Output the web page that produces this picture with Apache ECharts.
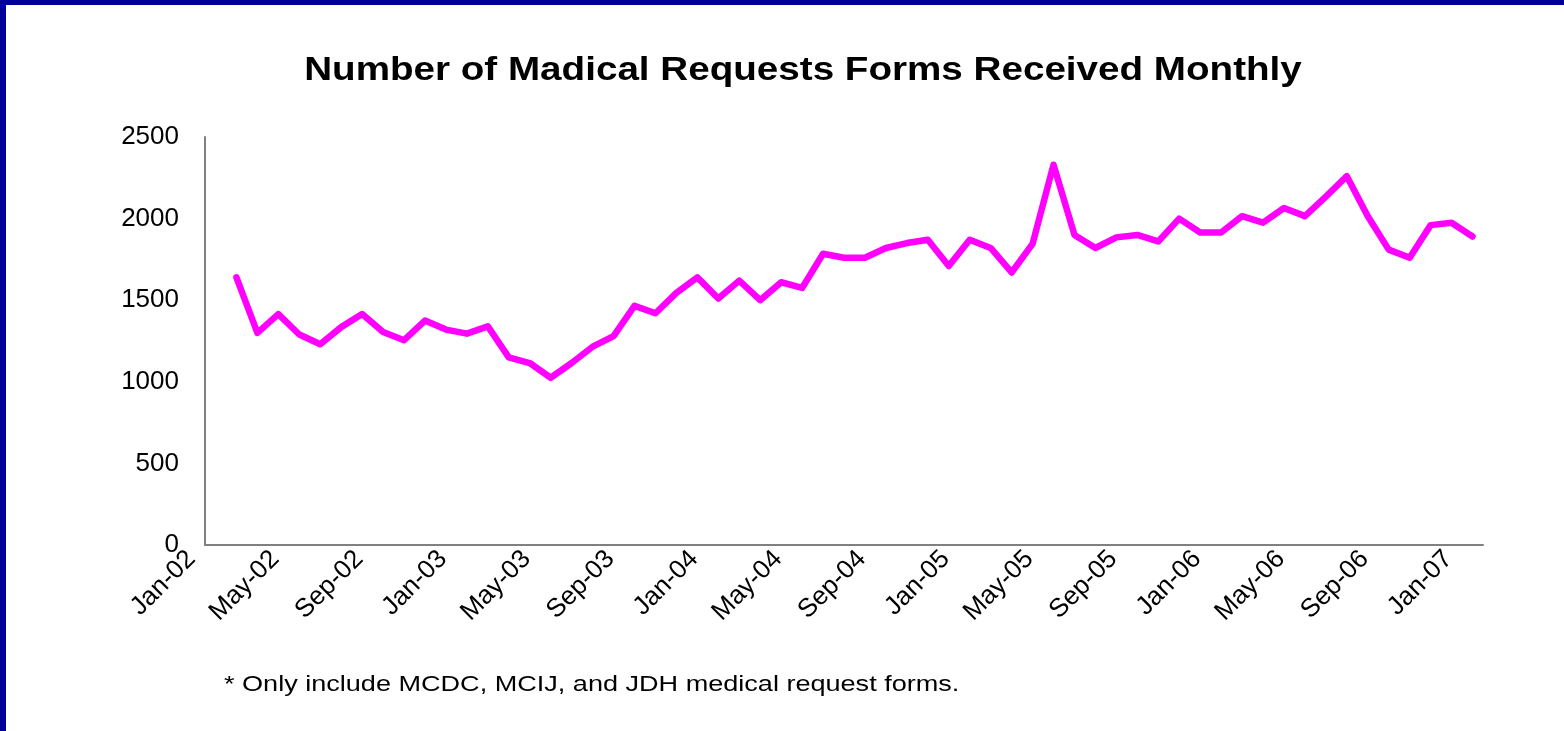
<!DOCTYPE html>
<html>
<head>
<meta charset="utf-8">
<title>Madical Requests Forms</title>
<script src="https://cdn.jsdelivr.net/npm/echarts@6/dist/echarts.min.js"></script>
<style>
    html, body { margin: 0; padding: 0; background: #fff; }
    #chart { width: 1564px; height: 731px; }
</style>
</head>
<body>
<div id="chart"></div>
<script>
// month categories (Jan-02 slot is empty in the source)
const months = [
    "Jan-02", "Feb-02", "Mar-02", "Apr-02", "May-02", "Jun-02", "Jul-02", "Aug-02", "Sep-02", "Oct-02", "Nov-02", "Dec-02",
    "Jan-03", "Feb-03", "Mar-03", "Apr-03", "May-03", "Jun-03", "Jul-03", "Aug-03", "Sep-03", "Oct-03", "Nov-03", "Dec-03",
    "Jan-04", "Feb-04", "Mar-04", "Apr-04", "May-04", "Jun-04", "Jul-04", "Aug-04", "Sep-04", "Oct-04", "Nov-04", "Dec-04",
    "Jan-05", "Feb-05", "Mar-05", "Apr-05", "May-05", "Jun-05", "Jul-05", "Aug-05", "Sep-05", "Oct-05", "Nov-05", "Dec-05",
    "Jan-06", "Feb-06", "Mar-06", "Apr-06", "May-06", "Jun-06", "Jul-06", "Aug-06", "Sep-06", "Oct-06", "Nov-06", "Dec-06",
    "Jan-07"
];

// forms received per month
const forms = [
    null, 1640, 1300, 1415, 1290, 1230, 1335, 1415, 1305, 1255, 1375, 1320,
    1295, 1340, 1150, 1115, 1025, 1115, 1215, 1280, 1465, 1420, 1545, 1640,
    1510, 1620, 1500, 1610, 1575, 1785, 1760, 1760, 1820, 1850, 1870, 1710,
    1870, 1820, 1670, 1845, 2330, 1900, 1820, 1885, 1900, 1860, 2000, 1915,
    1915, 2015, 1975, 2065, 2015, 2135, 2260, 2015, 1810, 1760, 1960, 1975,
    1890
];

const yTicks = [0, 500, 1000, 1500, 2000, 2500];

const titleText = "Number of Madical Requests Forms Received Monthly";
const noteText = "* Only include MCDC, MCIJ, and JDH medical request forms.";

const font = "'Liberation Sans', Arial, sans-serif";

let chart = echarts.init(document.getElementById("chart"));
const option = {
    backgroundColor: "#ffffff",
    animation: false,
    grid: {
        left: 205,
        right: 81,
        top: 137,
        bottom: 186,
        containLabel: false
    },
    xAxis: {
        type: "category",
        data: months,
        boundaryGap: true,
        axisLine: { show: true, lineStyle: { color: "#808080", width: 2 } },
        axisTick: { show: false },
        axisLabel: {
            interval: 3,
            rotate: 45,
            margin: -14,
            padding: [0, 34, 0, 0],
            color: "#000",
            fontSize: 26,
            fontFamily: font
        },
        splitLine: { show: false }
    },
    yAxis: {
        type: "value",
        min: yTicks[0],
        max: yTicks[yTicks.length - 1],
        interval: yTicks[1] - yTicks[0],
        axisLine: { show: true, lineStyle: { color: "#808080", width: 2 } },
        axisTick: { show: false },
        axisLabel: {
            margin: 26,
            color: "#000",
            fontSize: 26,
            fontFamily: font,
            formatter: function (v) { return String(v); }
        },
        splitLine: { show: false }
    },
    series: [
        {
            name: "Forms",
            type: "line",
            data: forms,
            showSymbol: false,
            symbol: "none",
            connectNulls: false,
            lineStyle: { color: "#ff00ff", width: 6.5, join: "round", cap: "round" }
        }
    ],
    graphic: [
        // dark blue frame on the left and top edges
        { type: "rect", left: 0, top: 0, shape: { width: 6, height: 731 }, style: { fill: "#000099" } },
        { type: "rect", left: 0, top: 0, shape: { width: 1564, height: 5 }, style: { fill: "#000099" } },
        {
            type: "text",
            x: 803,
            y: 71,
            scaleX: 1.17,
            style: {
                text: titleText,
                font: "bold 33px " + font,
                fill: "#000",
                textAlign: "center",
                textVerticalAlign: "middle"
            }
        },
        {
            type: "text",
            x: 224,
            y: 685,
            scaleX: 1.23,
            style: {
                text: noteText,
                font: "22px " + font,
                fill: "#000",
                textAlign: "left",
                textVerticalAlign: "middle"
            }
        }
    ]
};
chart.setOption(option);
</script>
</body>
</html>
